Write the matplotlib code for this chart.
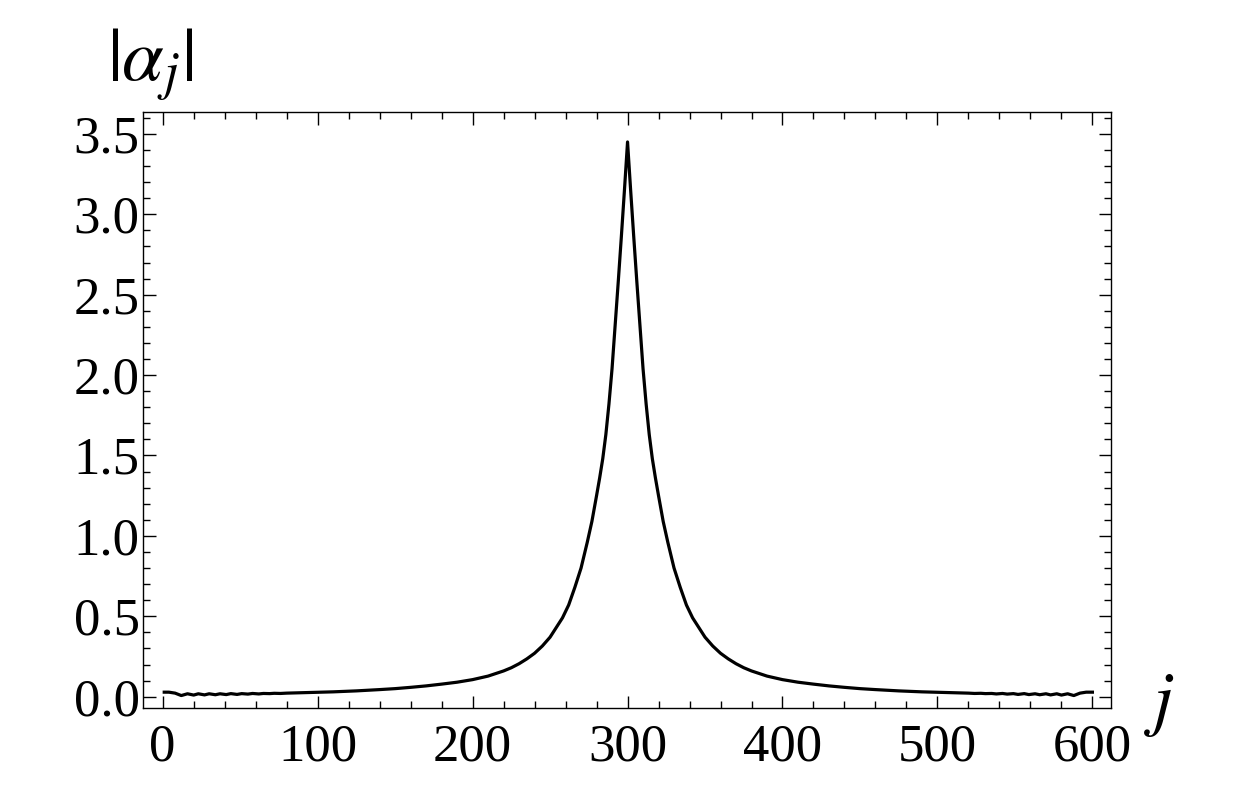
import numpy as np
import matplotlib.pyplot as plt
from matplotlib.ticker import MultipleLocator

plt.rcParams['font.family'] = ['Liberation Serif', 'DejaVu Serif']
plt.rcParams['mathtext.fontset'] = 'stix'

# values (j, |alpha_j|)
j_left = [1, 4, 8, 12, 16, 20, 23, 27, 30, 34, 37, 41, 44, 48, 51, 55, 58, 62, 65,
          69, 72, 76, 80, 95, 110, 125, 140, 150, 160, 170, 180, 190, 200, 210,
          220, 225, 230, 235, 240, 245, 250, 254, 258, 262, 266, 270, 274, 277,
          280, 282, 284, 286, 288, 290, 292, 294, 296, 298, 300]
alpha_left = [0.028, 0.028, 0.022, 0.007, 0.018, 0.010, 0.018, 0.011, 0.018, 0.012,
              0.018, 0.013, 0.019, 0.014, 0.019, 0.016, 0.020, 0.017, 0.020, 0.019,
              0.021, 0.020, 0.022, 0.026, 0.030, 0.036, 0.044, 0.050, 0.058, 0.067,
              0.078, 0.090, 0.106, 0.128, 0.160, 0.180, 0.205, 0.235, 0.270, 0.315,
              0.370, 0.430, 0.490, 0.570, 0.680, 0.800, 0.960, 1.090, 1.250, 1.360,
              1.480, 1.630, 1.820, 2.040, 2.310, 2.580, 2.860, 3.150, 3.450]

j_right = [302, 304, 306, 308, 310, 312, 314, 316, 318, 320, 323, 326, 330, 334,
           338, 342, 346, 350, 355, 360, 365, 370, 375, 380, 390, 400, 410, 420,
           430, 440, 450, 460, 475, 490, 505, 520, 524, 528, 531, 535, 538, 542,
           545, 549, 552, 556, 559, 563, 566, 570, 573, 577, 580, 584, 588, 592,
           596, 600]
alpha_right = [3.150, 2.860, 2.580, 2.310, 2.040, 1.820, 1.630, 1.480, 1.360, 1.250,
               1.090, 0.960, 0.800, 0.680, 0.570, 0.490, 0.430, 0.370, 0.315, 0.270,
               0.235, 0.205, 0.180, 0.160, 0.128, 0.106, 0.090, 0.078, 0.067, 0.058,
               0.050, 0.044, 0.036, 0.030, 0.026, 0.022, 0.020, 0.021, 0.019, 0.020,
               0.017, 0.020, 0.016, 0.019, 0.014, 0.019, 0.013, 0.018, 0.012, 0.018,
               0.011, 0.018, 0.010, 0.018, 0.007, 0.022, 0.028, 0.028]

j = j_left + j_right
alpha = alpha_left + alpha_right

fig = plt.figure(figsize=(12.5, 7.94), dpi=100)
ax = fig.add_axes([0.1144, 0.108, 0.7744, 0.7513])

ax.plot(j, alpha, color='black', lw=2.3, solid_joinstyle='round')

ax.set_xlim(-12.7, 612)
ax.set_ylim(-0.072, 3.638)
ax.xaxis.set_major_locator(MultipleLocator(100))
ax.xaxis.set_minor_locator(MultipleLocator(20))
ax.yaxis.set_major_locator(MultipleLocator(0.5))
ax.yaxis.set_minor_locator(MultipleLocator(0.1))
ax.yaxis.set_major_formatter(plt.FormatStrFormatter('%.1f'))

ax.tick_params(which='both', direction='in', top=True, right=True, width=1)
ax.tick_params(which='major', length=9, labelsize=38)
ax.tick_params(axis='x', which='major', pad=11)
ax.tick_params(axis='y', which='major', pad=2.5)
ax.tick_params(which='minor', length=5)
for s in ax.spines.values():
    s.set_linewidth(1)

fig.text(0.086, 0.918, r'$|\alpha_j|$', fontsize=54, ha='left', va='center')
fig.text(0.928, 0.112, r'$j$', fontsize=52, ha='center', va='center')

plt.savefig('out.png', dpi=100)
